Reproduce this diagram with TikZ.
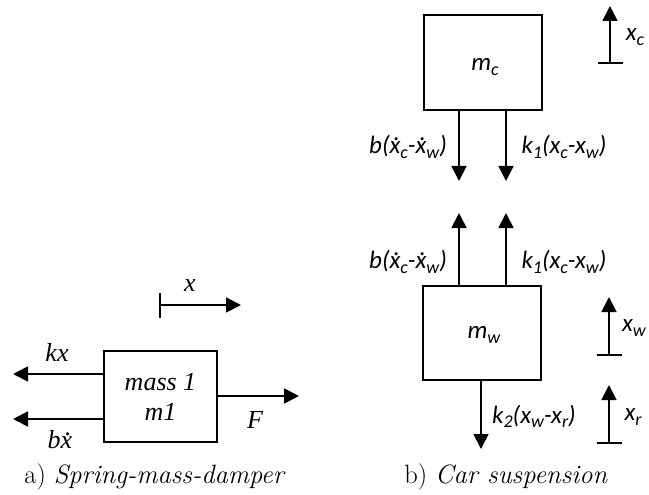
\documentclass[tikz,border=0pt]{standalone}
\usepackage{fontspec}
\newfontfamily\lbl{Carlito}
\newfontfamily\serlbl{Liberation Serif}
\usetikzlibrary{arrows.meta}
% subscript in the label font
\newcommand\sbx[1]{\raisebox{-0.35ex}{\fontsize{18}{18}\selectfont #1}}
% time derivative of x: a dot set over the letter
\newcommand\xdot{\ooalign{x\cr\hidewidth\kern0.14em\raisebox{1.15ex}{.}\hidewidth\cr}}
\tikzset{
  force/.style={line width=1.8pt, -{Triangle[length=15pt,width=15pt]}},
  mass/.style={draw, line width=1.3pt, inner sep=0pt},
  lab/.style={font=\lbl\itshape\fontsize{25}{29}\selectfont, inner sep=0pt, align=center},
  slab/.style={font=\serlbl\itshape\fontsize{26}{30}\selectfont, inner sep=0pt, align=center},
  captext/.style={font=\fontsize{26.5}{30}\selectfont, inner sep=0pt},
  tick/.style={line width=1.8pt}
}
\begin{document}
\begin{tikzpicture}[x=1pt,y=1pt]
\useasboundingbox (0,0) rectangle (649,-495);

% ---------- a) spring-mass-damper ----------
\node[mass, minimum width=113pt, minimum height=91pt] (m1) at (160.5,-396.5) {};
\node[slab] (m1t) at (160.5,-397) {mass 1\\m1};

\coordinate (kxs) at (104,-374); \coordinate (kxe) at (13,-374);
\coordinate (bxs) at (104,-419); \coordinate (bxe) at (13,-419);
\coordinate (Fs) at (217,-396);  \coordinate (Fe) at (299,-396);
\draw[force] (kxs) -- (kxe);
\draw[force] (bxs) -- (bxe);
\draw[force] (Fs) -- (Fe);

\coordinate (xb1) at (160,-293); \coordinate (xb2) at (160,-318);
\coordinate (xs) at (160,-305);  \coordinate (xe) at (241,-305);
\draw[tick] (xb1) -- (xb2);
\draw[force] (xs) -- (xe);

\node[slab] (lx) at (190,-286) {x};
\node[slab] (lkx) at (57,-352) {kx};
\node[slab] (lbx) at (60,-440) {b\xdot};
\node[slab] (lF) at (255,-420) {F};

\node[captext] (capa) at (155,-477) {a) \textit{Spring-mass-damper}};

% ---------- b) car suspension ----------
\node[mass, minimum width=118pt, minimum height=95pt] (mc) at (483,-62.5) {};
\node[lab] (mct) at (485,-67) {m\sbx{c}};
\node[mass, minimum width=118pt, minimum height=94pt] (mw) at (482,-333) {};
\node[lab] (mwt) at (484,-335) {m\sbx{w}};

% forces on the car body
\coordinate (c1s) at (459,-110); \coordinate (c1e) at (459,-181);
\coordinate (c2s) at (506,-110); \coordinate (c2e) at (506,-181);
\draw[force] (c1s) -- (c1e);
\draw[force] (c2s) -- (c2e);
\node[lab] (lbc) at (408,-147) {b(\xdot\sbx{c}-\xdot\sbx{w})};
\node[lab] (lkc) at (564,-147) {k\sbx{1}(x\sbx{c}-x\sbx{w})};

% forces on the wheel
\coordinate (w1s) at (459,-286); \coordinate (w1e) at (459,-213);
\coordinate (w2s) at (506,-286); \coordinate (w2e) at (506,-213);
\draw[force] (w1s) -- (w1e);
\draw[force] (w2s) -- (w2e);
\node[lab] (lbw) at (408,-262) {b(\xdot\sbx{c}-\xdot\sbx{w})};
\node[lab] (lkw) at (564,-262) {k\sbx{1}(x\sbx{c}-x\sbx{w})};

\coordinate (k2s) at (481,-380); \coordinate (k2e) at (481,-449);
\draw[force] (k2s) -- (k2e);
\node[lab] (lk2) at (534,-416) {k\sbx{2}(x\sbx{w}-x\sbx{r})};

% displacement markers
\coordinate (xcb1) at (598,-63); \coordinate (xcb2) at (623,-63);
\coordinate (xcs) at (610,-63);  \coordinate (xce) at (610,-6);
\draw[tick] (xcb1) -- (xcb2);
\draw[force] (xcs) -- (xce);
\node[lab] (lxc) at (635,-37) {x\sbx{c}};

\coordinate (xwb1) at (597,-355); \coordinate (xwb2) at (622,-355);
\coordinate (xws) at (609,-355);  \coordinate (xwe) at (609,-297);
\draw[tick] (xwb1) -- (xwb2);
\draw[force] (xws) -- (xwe);
\node[lab] (lxw) at (634,-328) {x\sbx{w}};

\coordinate (xrb1) at (597,-443); \coordinate (xrb2) at (622,-443);
\coordinate (xrs) at (609,-443);  \coordinate (xre) at (609,-385);
\draw[tick] (xrb1) -- (xrb2);
\draw[force] (xrs) -- (xre);
\node[lab] (lxr) at (633,-417) {x\sbx{r}};

\node[captext] (capb) at (506,-477) {b) \textit{Car suspension}};
\end{tikzpicture}
\end{document}
